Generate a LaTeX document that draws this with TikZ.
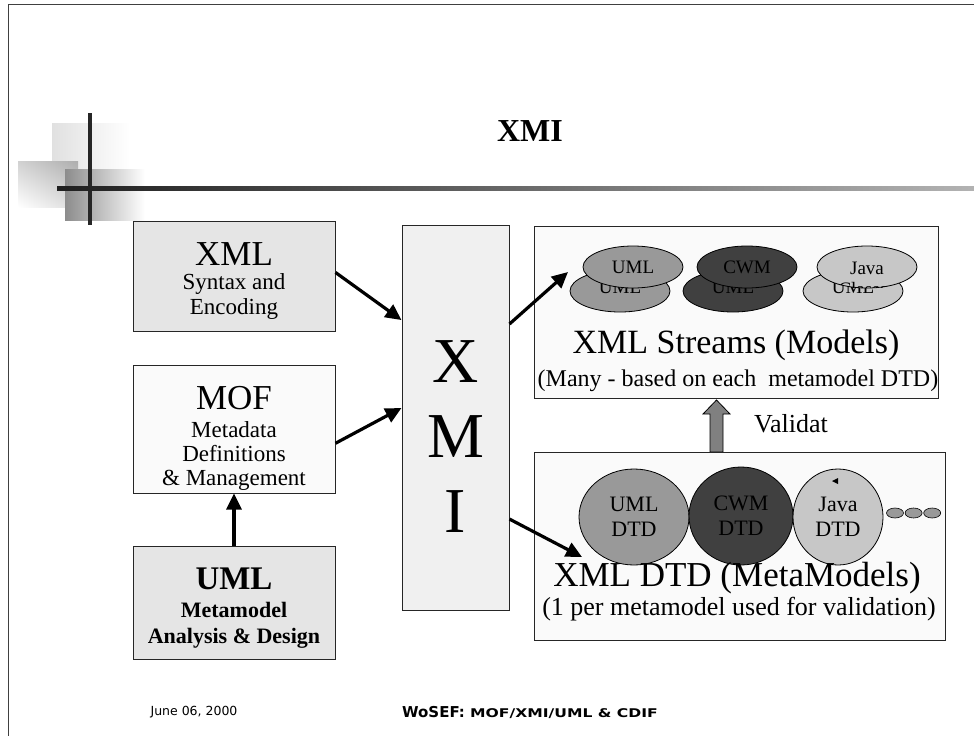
\documentclass[tikz,border=0pt]{standalone}
\usepackage{fontspec}
\setmainfont{Liberation Serif}
\newfontfamily\footfont{DejaVu Sans}
\usetikzlibrary{positioning}
\usetikzlibrary{arrows.meta}
\usetikzlibrary{shapes.geometric,shadings}

\definecolor{umlgrey}{gray}{0.60}
\definecolor{cwmgrey}{gray}{0.25}
\definecolor{javagrey}{gray}{0.78}

\newcommand{\bigline}[1]{{\fontsize{35}{36}\selectfont #1}}

\begin{document}
\begin{tikzpicture}[x=1pt,y=-1pt,every node/.style={inner sep=0pt,align=center}]

	\tikzstyle{box}=[rectangle,draw=black!85,line width=1pt,minimum width=202pt]
	\tikzstyle{grey box}=[box,fill=black!10]
	\tikzstyle{pale box}=[box,fill=black!2]
	\tikzstyle{blob}=[ellipse,draw=black,line width=.8pt,minimum width=100pt,minimum height=42pt,font=\fontsize{19}{21}\selectfont]
	\tikzstyle{dtd blob}=[blob,minimum height=96pt,font=\fontsize{22}{25}\selectfont]
	\tikzstyle{dot}=[ellipse,draw=black,line width=.6pt,fill=black!40,minimum width=17pt,minimum height=10pt]
	\tikzstyle{link}=[-{Triangle[length=16pt,width=15pt]},line width=3.2pt]

	\useasboundingbox (0,0) rectangle (974,736);
	\draw[black!75,line width=.8pt] (974,4) -- (8,4) -- (8,736);

	\shade[left color=black!12,right color=white] (52,123) rectangle (130,180);
	\shade[upper left=black!18,upper right=black!32,lower left=white,lower right=black!14] (18,161) rectangle (78,207);
	\shade[left color=black!45,right color=white] (65,169) rectangle (145,220);
	\draw[line width=4pt,black!85] (90,113) -- (90,225);
	\shade[left color=black!88,right color=black!30] (57,186) rectangle (974,190);

	\node[font=\bfseries\fontsize{32}{36}\selectfont] (title) at (530,131) {XMI};

	\node[grey box,minimum height=110pt] (xml) at (234,276) {};
	\node[font=\fontsize{23}{25}\selectfont] (xmltext) at (234,281) {\bigline{XML}\\[-1pt]Syntax and\\Encoding};
	\node[pale box,minimum height=128pt] (mof) [below of=xml,node distance=153pt] {};
	\node[font=\fontsize{23}{24}\selectfont] (moftext) at (234,438) {\bigline{MOF}\\[4pt]Metadata\\Definitions\\\& Management};
	\node[grey box,minimum height=113pt] (uml) [below of=mof,node distance=173.5pt] {};
	\node[font=\bfseries\fontsize{22}{26}\selectfont] (umltext) at (234,608) {{\fontsize{33}{36}\selectfont UML}\\[2pt]Metamodel\\Analysis \& Design};

	\node[box,fill=black!6,minimum width=107pt,minimum height=385pt] (xmi) at (455.5,417.5) {};
	\node[font=\fontsize{64}{75}\selectfont] (xmitext) at (455.5,437) {X\\M\\I};

	\node[box,fill=black!2,minimum width=404pt,minimum height=172pt] (mdl) at (736,312) {};
	\node[blob,fill=umlgrey] (uback) at (620,291) {\raisebox{7pt}{UML}};
	\node[blob,fill=cwmgrey] (cback) at (733,291) {\raisebox{7pt}{UML}};
	\node[blob,fill=javagrey] (jback) at (853,291) {\raisebox{7pt}{UML}};
	\node[blob,fill=umlgrey] (ufront) at (633,267) {UML};
	\node[blob,fill=cwmgrey] (cfront) at (747,267) {CWM};
	\node[blob,fill=javagrey] (jfront) at (867,267) {};
	\begin{scope}
		\clip (867,267) ellipse [x radius=50pt,y radius=21pt];
		\node[font=\fontsize{19}{21}\selectfont] (jtext) at (867,279) {Java\\Classes};
	\end{scope}
	\node[font=\fontsize{34}{36}\selectfont] (mdltitle) at (736,345) {XML Streams (Models)};
	\node[font=\fontsize{24}{26}\selectfont] (mdlsub) at (738,381) {(Many - based on each\ \ metamodel DTD)};

	\draw[black,fill=black!50,line width=.8pt] (710,452) -- (710,414) -- (703,414) -- (716.5,400) -- (730,414) -- (723,414) -- (723,452) -- cycle;
	\node[font=\fontsize{26}{28}\selectfont] (valid) at (791,424) {Validat};

	\node[box,fill=black!2,minimum width=411pt,minimum height=188pt] (dtd) at (739.5,546) {};
	\node[dtd blob,fill=umlgrey,minimum width=110pt] (udtd) at (634,517) {UML\\DTD};
	\node[dtd blob,fill=cwmgrey,minimum width=104pt,minimum height=98pt] (cdtd) at (741,516) {CWM\\DTD};
	\node[dtd blob,fill=javagrey,minimum width=90pt] (jdtd) at (838,517) {Java\\DTD};
	\fill (832,481) -- (838,478) -- (838,484) -- cycle;
	\node[dot] (d1) at (895,513) {};
	\node[dot] (d2) [right=1pt of d1] {};
	\node[dot] (d3) [right=1pt of d2] {};
	\node[font=\fontsize{35}{36}\selectfont] (dtdtitle) at (737,578) {XML DTD (MetaModels)};
	\node[font=\fontsize{26}{28}\selectfont] (dtdsub) at (739,609) {(1 per metamodel used for validation)};

	\coordinate (mdlin) at (568,272);
	\coordinate (dtdin) at (582,557);
	\draw[link] (xml.2) -- (xmi.119.5);
	\draw[link] (mof.-8) -- (xmi.170);
	\draw[link] (uml.north) -- (mof.south);
	\draw[link] (xmi.60.5) -- (mdlin);
	\draw[link] (xmi.-62.4) -- (dtdin);

	\node[font=\footfont\fontsize{12.5}{14}\selectfont] (date) at (194,712) {June 06, 2000};
	\node[font=\footfont\bfseries\fontsize{15}{16}\selectfont] (foot) at (530,712) {WoSEF: \scalebox{1.3}[1]{\fontsize{12}{14}\selectfont MOF/XMI/UML \& CDIF}};

\end{tikzpicture}
\end{document}
